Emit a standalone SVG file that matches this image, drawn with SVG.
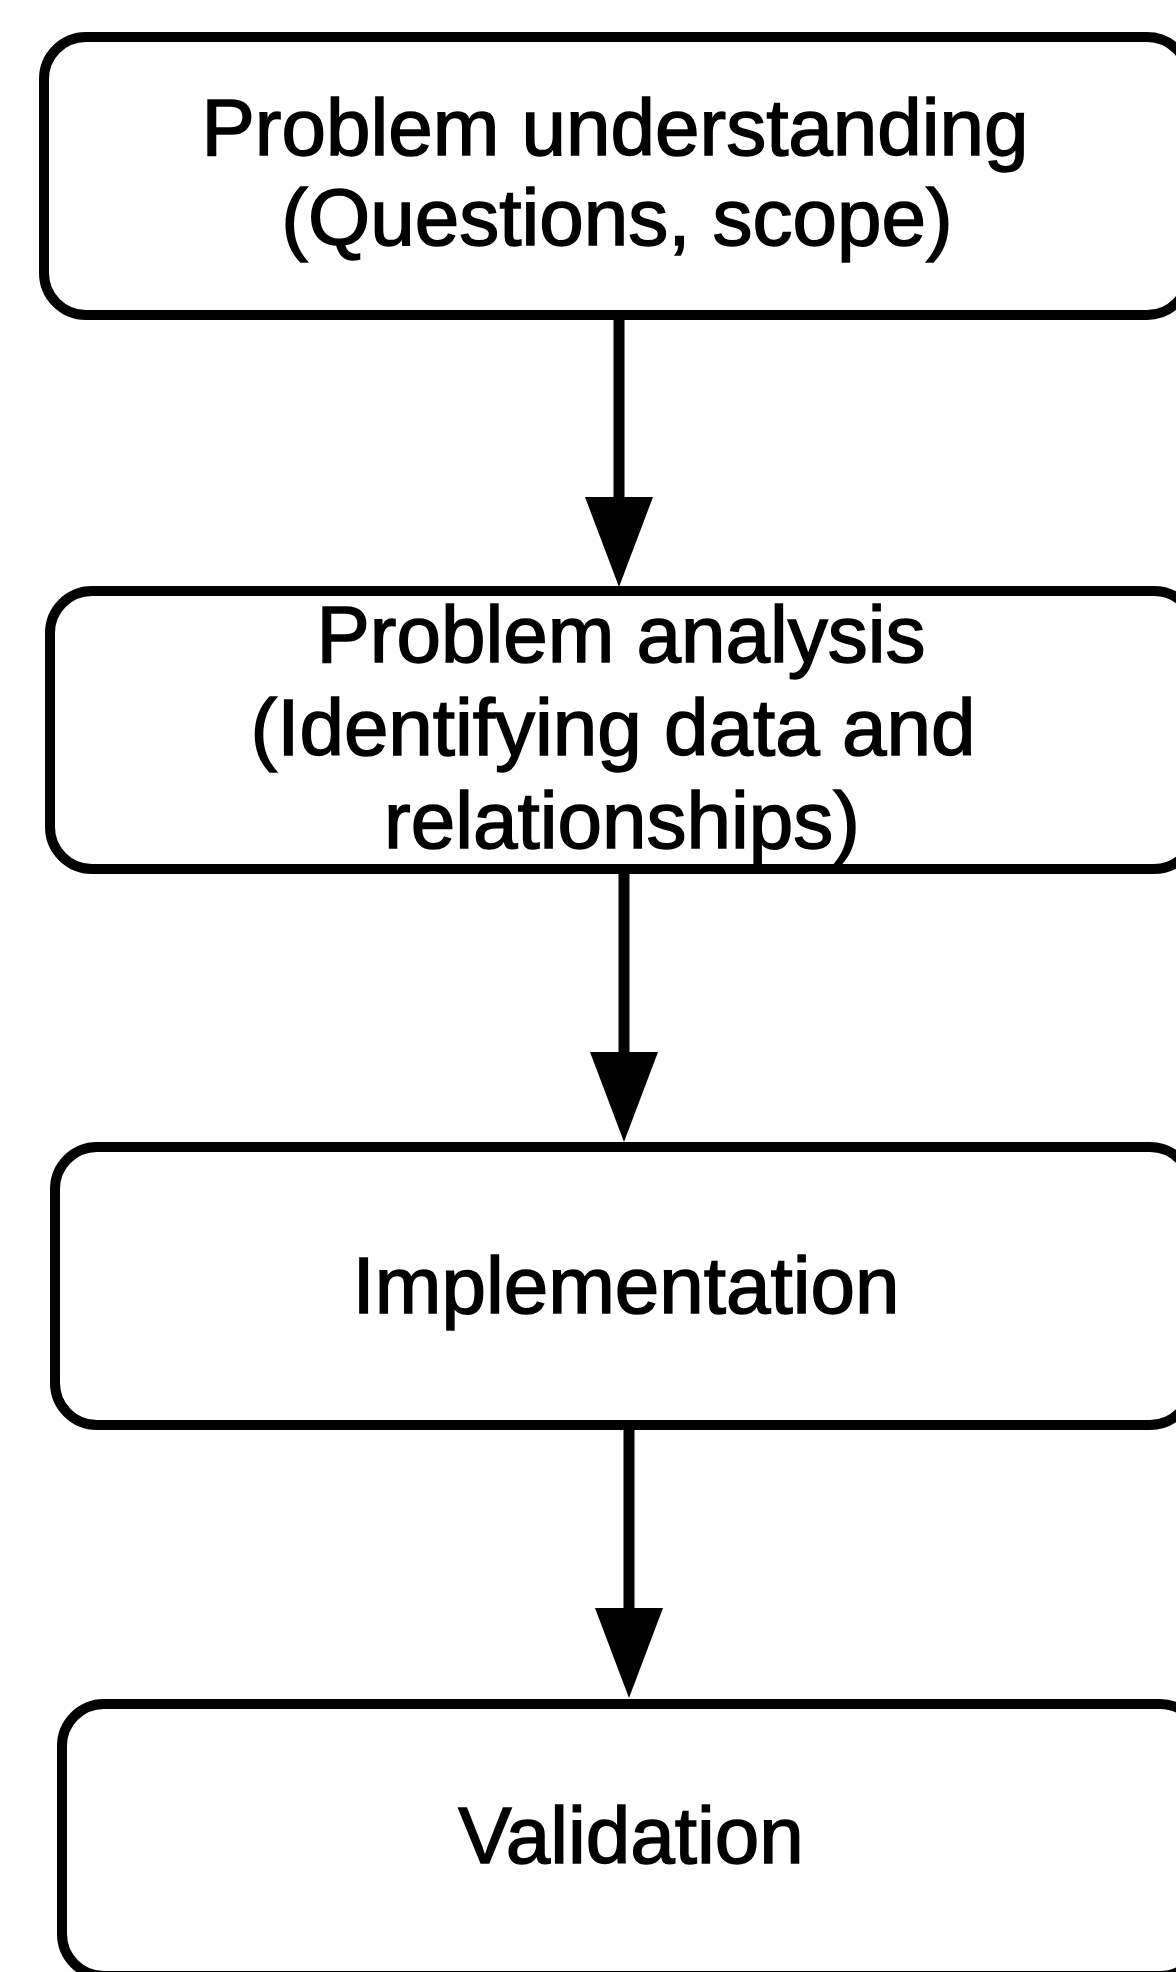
<svg xmlns="http://www.w3.org/2000/svg" width="1176" height="1972" viewBox="0 0 1176 1972">
  <style>
    .box { fill: #ffffff; stroke: #000000; stroke-width: 10; }
    .label { font-family: "Liberation Sans", Arial, sans-serif; font-size: 80px; fill: #000000; stroke: #000000; stroke-width: 1.5; text-anchor: middle; }
    .flow { stroke: #000000; stroke-width: 11; fill: none; marker-end: url(#head); }
  </style>
  <defs>
    <marker id="head" viewBox="0 0 90 68" refX="5" refY="34" markerWidth="90" markerHeight="68" markerUnits="userSpaceOnUse" orient="auto">
      <path d="M0,0 L90,34 L0,68 Z" fill="#000000"/>
    </marker>
  </defs>
  <rect x="0" y="0" width="1176" height="1972" fill="#ffffff"/>

  <g id="connectors">
    <line class="flow" x1="619" y1="315" x2="619" y2="502"/>
    <line class="flow" x1="624" y1="869" x2="624" y2="1057"/>
    <line class="flow" x1="629" y1="1426" x2="629" y2="1613"/>
  </g>

  <g id="understanding">
    <rect class="box" x="44" y="37" width="1145" height="278" rx="42" ry="42"/>
    <text class="label" x="615" y="155">Problem understanding</text>
    <text class="label" x="617" y="245">(Questions, scope)</text>
  </g>

  <g id="analysis">
    <rect class="box" x="50" y="591" width="1146" height="278" rx="42" ry="42"/>
    <text class="label" x="621" y="662">Problem analysis</text>
    <text class="label" x="613" y="755">(Identifying data and</text>
    <text class="label" x="622" y="848">relationships)</text>
  </g>

  <g id="implementation">
    <rect class="box" x="55" y="1147" width="1137" height="278" rx="42" ry="42"/>
    <text class="label" x="626" y="1313">Implementation</text>
  </g>

  <g id="validation">
    <rect class="box" x="62" y="1704" width="1140" height="272" rx="42" ry="42"/>
    <text class="label" x="631" y="1863">Validation</text>
  </g>
</svg>
